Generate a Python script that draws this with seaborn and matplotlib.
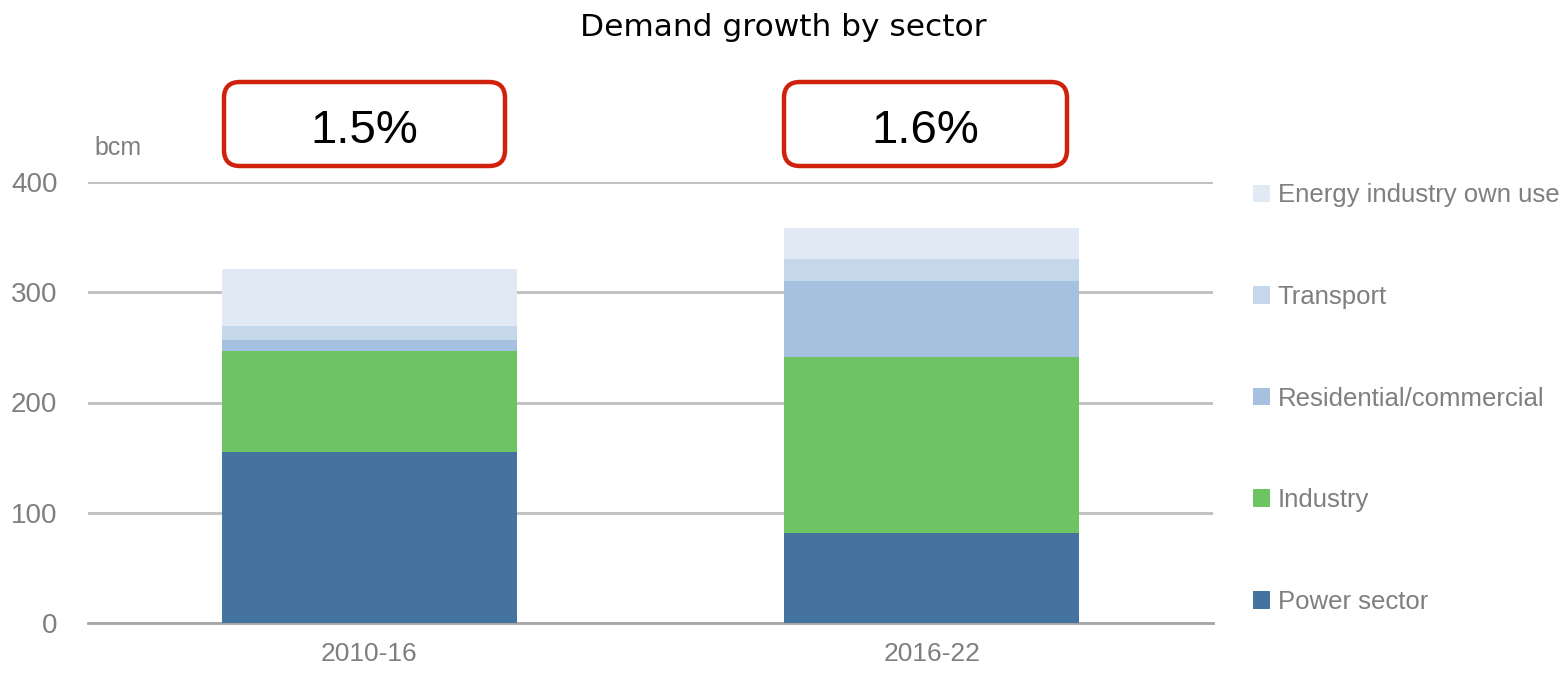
import matplotlib
matplotlib.use("Agg")
import matplotlib.pyplot as plt
import seaborn as sns
import numpy as np
import pandas as pd
from matplotlib.patches import FancyBboxPatch, Patch

periods = ["2010-16", "2016-22"]
sectors = ["Power sector", "Industry", "Residential/commercial", "Transport", "Energy industry own use"]
power = [155.4, 81.6]
industry = [91.3, 159.9]
residential = [10.0, 69.0]
transport = [12.7, 19.7]
energy_own = [51.4, 27.8]
growth_labels = ["1.5%", "1.6%"]
colors = ["#44739F", "#6EC463", "#A6C1DF", "#C5D7EB", "#E1EAF4"]
yticks = [0, 100, 200, 300, 400]

sns.set_theme(style="white")
plt.rcParams['font.family'] = ['Liberation Sans', 'DejaVu Sans']

fig = plt.figure(figsize=(15.66, 6.78), dpi=100)
ax = fig.add_axes([88/1566, 55/678, (1213-88)/1566, (623-182)/678])

layers = [power, industry, residential, transport, energy_own]
cum = np.cumsum(np.array(layers), axis=0)
for i in range(len(layers) - 1, -1, -1):
    df = pd.DataFrame({"period": periods, "value": cum[i]})
    sns.barplot(data=df, x="period", y="value", color=colors[i], width=0.525,
                saturation=1, ax=ax, zorder=3, edgecolor="none", linewidth=0)

ax.set_xlim(-0.5, 1.5)
ax.set_ylim(0, 400)
ax.set_yticks(yticks)
ax.yaxis.grid(True, color="#BFBFBF", linewidth=2, zorder=0)
ax.set_axisbelow(True)
for s in ["left", "right", "top"]:
    ax.spines[s].set_visible(False)
ax.spines["bottom"].set_color("#A6A6A6")
ax.spines["bottom"].set_linewidth(2)
ax.set_xlabel("")
ax.set_ylabel("")
ax.tick_params(axis="y", length=0, labelsize=20, labelcolor="#7F7F7F", pad=22)
ax.tick_params(axis="x", length=0, labelsize=19, labelcolor="#7F7F7F", pad=14)

ax.text(0.006, 1.077, "bcm", transform=ax.transAxes, fontsize=18, color="#7F7F7F",
        ha="left", va="center")

fig.text(0.5, 1 - 27/678, "Demand growth by sector", ha="center", va="center",
         fontsize=22.5, color="black", family="DejaVu Sans")

# growth boxes
box_px = [(224, 505), (784, 1067)]
for (x0, x1), lab in zip(box_px, growth_labels):
    y0, y1 = 678 - 166, 678 - 82
    p = FancyBboxPatch((x0, y0), x1 - x0, y1 - y0,
                       boxstyle="round,pad=0,rounding_size=16",
                       transform=None, facecolor="white", edgecolor="#D0210C",
                       linewidth=3.2, zorder=5)
    fig.add_artist(p)
    fig.text((x0 + x1) / 2 / 1566, ((y0 + y1) / 2 - 7) / 678, lab, ha="center", va="center",
             fontsize=34, color="black", family="Liberation Sans", zorder=6)

handles = [Patch(facecolor=colors[i], edgecolor="none", label=sectors[i])
           for i in range(len(sectors) - 1, -1, -1)]
leg = ax.legend(handles=handles, loc="upper left", bbox_to_anchor=(1.026, 1.02),
                frameon=False, fontsize=18.5, labelcolor="#7F7F7F",
                handlelength=0.68, handleheight=0.68, handletextpad=0.3,
                labelspacing=3.02, borderaxespad=0)

fig.savefig("out.png", dpi=100)
